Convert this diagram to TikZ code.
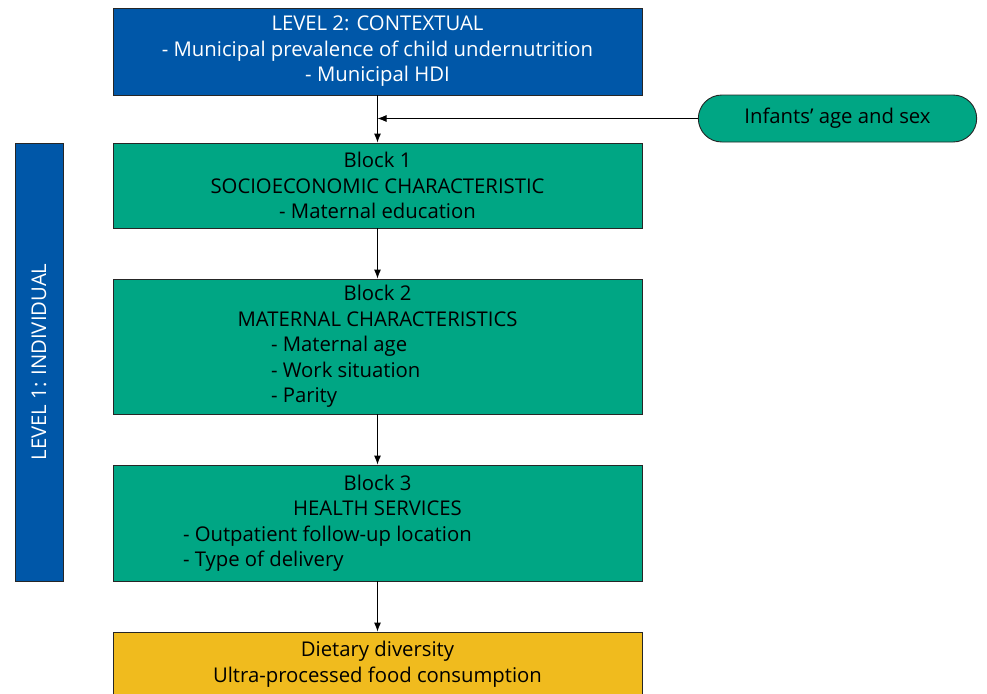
\documentclass[tikz,border=0pt]{standalone}
\usepackage{fontspec}
\setmainfont{Open Sans}
\usepackage{tikz}
\usetikzlibrary{arrows,arrows.meta,shapes,positioning}

\definecolor{levelblue}{RGB}{0,87,168}
\definecolor{blockgreen}{RGB}{0,166,132}
\definecolor{outgold}{RGB}{240,187,30}

\begin{document}
\begin{tikzpicture}[x=1pt,y=-1pt]
                \tikzset{
                  box/.style={draw=black!85, line width=0.9pt, minimum width=529pt, align=center,
                    inner sep=0pt, font=\fontsize{20.3}{25.5}\selectfont},
                  levelbox/.style={box, fill=levelblue, text=white},
                  blockbox/.style={box, fill=blockgreen},
                  link/.style={line width=0.9pt, -{Latex[length=9pt,width=7pt]}}
                }
                \useasboundingbox (0,0) rectangle (987,693);
                % boxes
                \node [levelbox, minimum height=87pt] (ctx) at (377.5,51.5)
                  {LEVEL 2: CONTEXTUAL\\- Municipal prevalence of child undernutrition\\- Municipal HDI};
                \node [blockbox, minimum height=85pt] (b1) at (377.5,185.5)
                  {Block 1\\SOCIOECONOMIC CHARACTERISTIC\\- Maternal education};
                \node [blockbox, minimum height=135pt] (b2) at (377.5,346.5)
                  {Block 2\\MATERNAL CHARACTERISTICS\\\makebox[213pt][l]{- Maternal age}\\
                   \makebox[213pt][l]{- Work situation}\\\makebox[213pt][l]{- Parity}};
                \node [blockbox, minimum height=116pt] (b3) at (377.5,523)
                  {Block 3\\HEALTH SERVICES\\\makebox[389pt][l]{- Outpatient follow-up location}\\
                   \makebox[389pt][l]{- Type of delivery}};
                \node [box, fill=outgold, minimum height=64pt] (out) at (377.5,664)
                  {Dietary diversity\\Ultra-processed food consumption};
                \node [levelbox, minimum width=48pt, minimum height=438pt] (lvl1) at (39,362) {};
                \node [rotate=90, text=white, font=\fontsize{20.3}{24}\selectfont] (lvl1txt) at (lvl1.center)
                  {LEVEL 1: INDIVIDUAL};
                \node [draw=black!85, line width=0.9pt, fill=blockgreen, rounded rectangle,
                  minimum width=285pt, minimum height=47pt, font=\fontsize{20.3}{24}\selectfont] (inf) at (837.5,118.5)
                  {Infants’ age and sex};
                % arrows
                \coordinate (join) at (ctx.south |- inf.west);
                \draw [link] (ctx) -- (b1);
                \draw [link] (inf) -- (join);
                \draw [link] (b1) -- (b2);
                \draw [link] (b2) -- (b3);
                \draw [link] (b3) -- (out);
\end{tikzpicture}
\end{document}
